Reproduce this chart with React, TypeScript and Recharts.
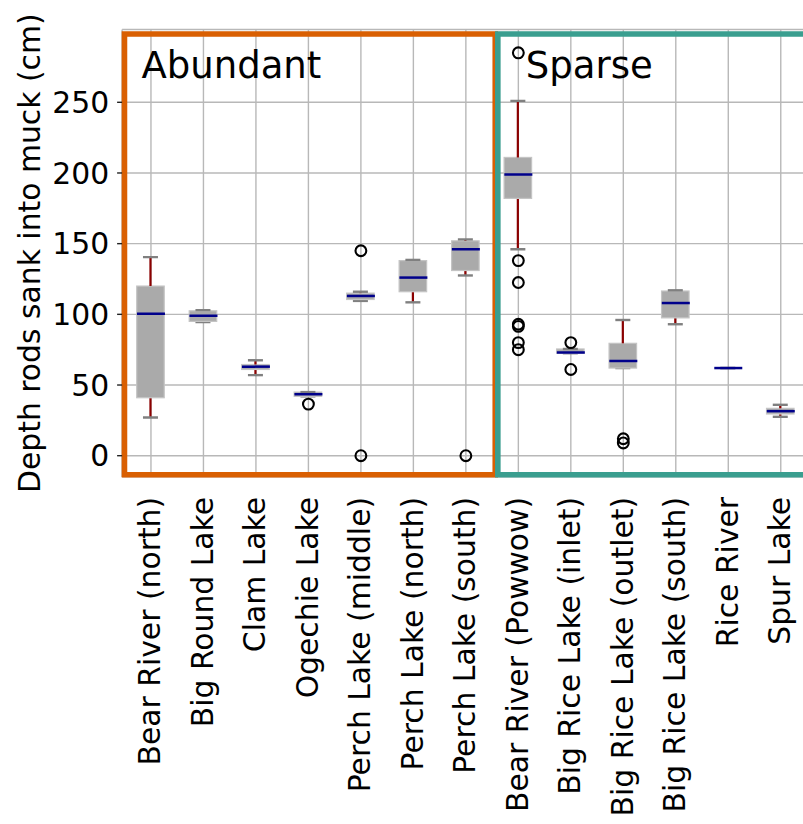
import React from "react";
import {
  ComposedChart,
  Bar,
  Scatter,
  XAxis,
  YAxis,
  CartesianGrid,
  ReferenceArea,
  Label,
} from "recharts";

// sampling sites, left to right
const sites = [
  "Bear River (north)",
  "Big Round Lake",
  "Clam Lake",
  "Ogechie Lake",
  "Perch Lake (middle)",
  "Perch Lake (north)",
  "Perch Lake (south)",
  "Bear River (Powwow)",
  "Big Rice Lake (inlet)",
  "Big Rice Lake (outlet)",
  "Big Rice Lake (south)",
  "Rice River",
  "Spur Lake",
];

// box stats (cm)
const whiskerLow = [27, 94.5, 57, 42, 109.5, 108.5, 127.5, 146, 72.5, 62, 93, 62, 27.5];
const q1 = [41, 95, 61, 42, 110.5, 116, 131, 182, 72.5, 62, 97.5, 62, 29.5];
const median = [100.5, 99, 63, 43.5, 113, 126, 146, 199, 73, 67, 108, 62, 31.5];
const q3 = [120, 102.5, 64.5, 45, 115, 138, 152, 211, 75.5, 79.5, 116.5, 62, 33.5];
const whiskerHigh = [140.5, 103, 67.5, 45, 116, 138.5, 153, 251, 75.5, 96, 117, 62, 36];

// fliers
const outlierSite = [
  "Ogechie Lake",
  "Perch Lake (middle)",
  "Perch Lake (middle)",
  "Perch Lake (south)",
  "Bear River (Powwow)",
  "Bear River (Powwow)",
  "Bear River (Powwow)",
  "Bear River (Powwow)",
  "Bear River (Powwow)",
  "Bear River (Powwow)",
  "Bear River (Powwow)",
  "Big Rice Lake (inlet)",
  "Big Rice Lake (inlet)",
  "Big Rice Lake (outlet)",
  "Big Rice Lake (outlet)",
];
const outlierDepth = [36.5, 145, 0, 0, 285, 138, 122.5, 93, 91.5, 80, 75, 80, 61, 12, 9];

const yTicks = [0, 50, 100, 150, 200, 250];

const FONT = "'DejaVu Sans', sans-serif";
const FS = 29.8;
const ORANGE = "#d95f02";
const TEAL = "#3a9e8f";
const BOX = "#aaaaaa";
const WHISKER = "#8b0000";
const CAP = "#808080";
const MEDIAN = "#00008b";

const positions = sites.map((_, i) => i + 1);

const rows = sites.map((name, i) => ({
  pos: i + 1,
  name,
  base: whiskerLow[i],
  lowWhisker: q1[i] - whiskerLow[i],
  box: q3[i] - q1[i],
  highWhisker: whiskerHigh[i] - q3[i],
}));

const medianPoints = sites.map((_, i) => ({ pos: i + 1, v: median[i] }));
const outlierPoints = outlierSite.map((s, i) => ({
  pos: sites.indexOf(s) + 1,
  v: outlierDepth[i],
}));

const LowWhisker = (p: any) => {
  const cx = p.x + p.width / 2;
  const bottom = p.y + p.height;
  return (
    <g>
      <line x1={cx} x2={cx} y1={p.y} y2={bottom} stroke={WHISKER} strokeWidth={2.2} />
      <line x1={cx - 7.5} x2={cx + 7.5} y1={bottom} y2={bottom} stroke={CAP} strokeWidth={2.4} />
    </g>
  );
};

const HighWhisker = (p: any) => {
  const cx = p.x + p.width / 2;
  return (
    <g>
      <line x1={cx} x2={cx} y1={p.y} y2={p.y + p.height} stroke={WHISKER} strokeWidth={2.2} />
      <line x1={cx - 7.5} x2={cx + 7.5} y1={p.y} y2={p.y} stroke={CAP} strokeWidth={2.4} />
    </g>
  );
};

const BoxShape = (p: any) =>
  p.height > 0 ? (
    <rect x={p.x} y={p.y} width={p.width} height={p.height} fill={BOX} stroke="#c4c4c4" strokeWidth={1.2} />
  ) : (
    <g />
  );

const MedianShape = (p: any) => (
  <line x1={p.cx - 14} x2={p.cx + 14} y1={p.cy} y2={p.cy} stroke={MEDIAN} strokeWidth={2.5} />
);

const Flier = (p: any) => (
  <circle cx={p.cx} cy={p.cy} r={5.4} fill="none" stroke="#000" strokeWidth={2.1} />
);

const SiteTick = ({ x, y, payload }: any) => (
  <text
    transform={`translate(${x + 9.5},${y + 20}) rotate(-90)`}
    textAnchor="end"
    fontSize={FS}
    fontFamily={FONT}
    fill="#000"
  >
    {sites[payload.value - 1]}
  </text>
);

const YLabel = ({ viewBox }: any) => (
  <text
    transform={`translate(${viewBox.x + 39.5},${viewBox.y + viewBox.height / 2}) rotate(-90)`}
    textAnchor="middle"
    fontSize={FS}
    fontFamily={FONT}
    fill="#000"
  >
    Depth rods sank into muck (cm)
  </text>
);

const groupTitle = (text: string, dx: number) => (props: any) => {
  const vb = props.viewBox;
  return (
    <text x={vb.x + dx} y={vb.y + 44.3} fontSize={37} fontFamily={FONT} fill="#000">
      {text}
    </text>
  );
};

export default function App() {
  return (
    <div
      style={{
        position: "fixed",
        left: 0,
        top: 0,
        width: 803,
        height: 824,
        overflow: "hidden",
        background: "#fff",
      }}
    >
      <ComposedChart
        width={830}
        height={824}
        data={rows}
        margin={{ top: 29.5, right: 23, bottom: 7.1, left: 0 }}
        style={{ fontFamily: FONT }}
      >
        <CartesianGrid stroke="#b8b8b8" strokeWidth={1.4} />
        <XAxis
          dataKey="pos"
          type="number"
          domain={[0.45, 13.5]}
          allowDataOverflow
          ticks={positions}
          interval={0}
          axisLine={false}
          tickLine={false}
          tickSize={0}
          tickMargin={0}
          height={340}
          tick={<SiteTick />}
        />
        <YAxis
          type="number"
          domain={[-15, 301.5]}
          allowDataOverflow
          ticks={yTicks}
          width={122.1}
          axisLine={false}
          tickLine={{ stroke: "#222", strokeWidth: 1.4 }}
          tickSize={5}
          tickMargin={8}
          tick={{ fill: "#000", fontSize: FS, fontFamily: FONT }}
        >
          <Label content={<YLabel />} />
        </YAxis>
        <ReferenceArea
          x1={0.495}
          x2={7.56}
          y1={-13.5}
          y2={298.3}
          fill="none"
          fillOpacity={0}
          stroke={ORANGE}
          strokeWidth={5.6}
          ifOverflow="visible"
          label={groupTitle("Abundant", 17)}
        />
        <ReferenceArea
          x1={7.609}
          x2={13.6}
          y1={-13.5}
          y2={298.3}
          fill="none"
          fillOpacity={0}
          stroke={TEAL}
          strokeWidth={5.6}
          ifOverflow="visible"
          label={groupTitle("Sparse", 28)}
        />
        <Bar dataKey="base" stackId="b" barSize={27.5} fill="none" shape={() => <g />} isAnimationActive={false} />
        <Bar dataKey="lowWhisker" stackId="b" barSize={27.5} shape={LowWhisker} isAnimationActive={false} />
        <Bar dataKey="box" stackId="b" barSize={27.5} shape={BoxShape} isAnimationActive={false} />
        <Bar dataKey="highWhisker" stackId="b" barSize={27.5} shape={HighWhisker} isAnimationActive={false} />
        <Scatter data={medianPoints} dataKey="v" shape={MedianShape} isAnimationActive={false} />
        <Scatter data={outlierPoints} dataKey="v" shape={Flier} isAnimationActive={false} />
      </ComposedChart>
    </div>
  );
}
